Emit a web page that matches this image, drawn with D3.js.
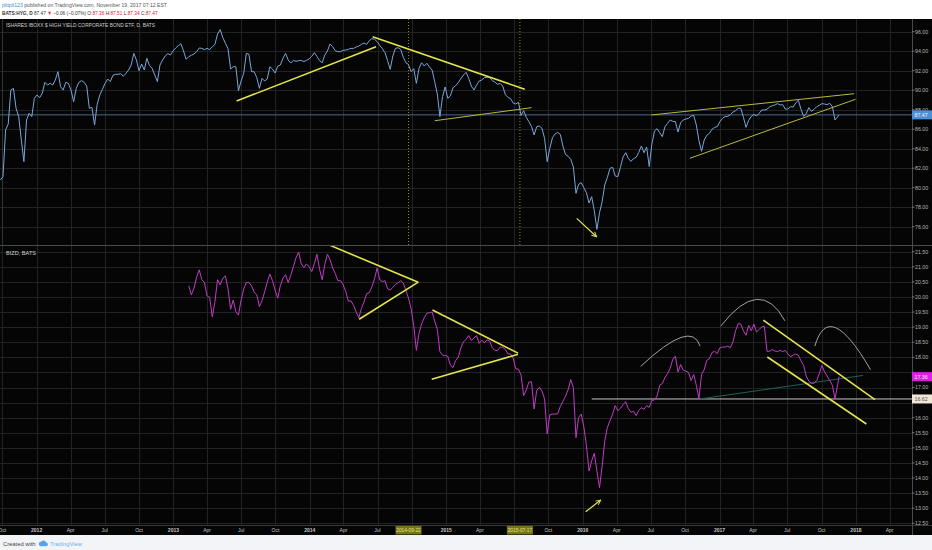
<!DOCTYPE html>
<html><head><meta charset="utf-8">
<script src="https://cdn.jsdelivr.net/npm/d3@7"></script>
<style>
body{margin:0;background:#fff}
svg{display:block}
text{font-family:"Liberation Sans",Arial,sans-serif}
</style>
</head><body>
<svg id="c" width="932" height="550"></svg>
<script>
// ---------------- DATA ----------------
const hygStart = "2011-09-26";   // weekly closes (Mondays)
const bizdStart = "2013-02-11";
const lastDate = "2017-11-17";
const hygValues = [
80.79,81.13,85.92,86.53,90.02,90.19,88.14,87.29,84.89,82.67,
86.94,87.63,87.29,89.17,89.51,89.23,89.68,90.81,90.53,90.70,
90.53,91.05,91.90,90.36,90.02,90.81,90.70,90.02,88.82,90.19,
90.81,90.98,90.81,90.43,88.14,88.24,86.43,88.55,89.51,90.09,
90.70,91.15,90.88,91.52,91.63,91.63,91.70,91.42,91.73,92.07,
92.58,93.78,93.10,92.00,92.69,92.07,93.27,92.52,92.24,91.56,
90.88,92.58,93.10,93.51,93.75,93.61,94.02,94.33,94.57,94.77,
94.02,93.17,93.44,93.58,93.71,93.95,94.33,94.29,94.16,94.29,
94.16,94.46,94.70,95.76,96.21,95.42,94.81,94.26,92.17,92.41,
92.41,89.95,90.94,91.73,93.78,93.68,91.90,91.90,91.29,90.19,
91.22,90.94,91.15,92.41,92.17,91.76,92.45,92.58,93.27,93.78,
93.10,92.79,93.06,92.96,93.03,93.06,92.93,93.06,93.20,93.47,
93.85,93.47,93.03,92.82,93.61,94.02,94.74,94.46,94.05,93.95,
93.95,94.09,94.12,94.19,94.29,94.29,94.43,94.53,94.70,94.84,
94.70,95.08,95.29,95.22,94.98,94.57,94.26,93.85,93.03,92.14,
93.51,94.29,94.36,94.19,93.37,92.82,92.62,91.90,92.21,90.70,
92.24,92.82,92.48,92.76,92.38,92.07,90.88,89.61,87.29,89.34,
90.33,89.17,89.41,90.26,90.46,90.77,91.18,91.56,91.83,91.22,
90.43,90.02,90.53,90.94,91.05,91.29,91.32,91.32,90.98,90.84,
90.60,90.70,90.43,89.54,89.27,89.13,88.69,88.58,88.76,87.42,
87.90,87.22,86.77,86.29,85.41,86.26,86.33,86.09,85.06,82.67,
84.04,85.13,85.51,85.68,85.47,84.28,83.39,83.22,82.91,82.12,
79.42,80.35,80.52,80.00,79.49,78.43,79.08,77.64,75.73,77.44,
78.57,80.28,81.06,81.99,82.09,81.20,81.13,82.09,83.15,83.59,
83.01,82.70,82.98,83.11,83.63,84.28,83.59,84.17,82.16,84.45,
85.82,86.05,85.64,85.23,86.26,86.60,86.94,86.81,86.77,85.71,
86.67,86.94,87.05,87.11,87.35,87.42,86.43,84.82,83.73,84.89,
85.37,85.58,85.99,86.19,86.26,86.77,87.11,87.29,87.32,87.49,
87.76,87.90,88.14,88.14,87.22,86.19,86.91,87.32,87.52,87.35,
87.63,87.97,87.97,88.04,88.28,88.41,88.48,88.62,88.48,88.52,
88.07,88.07,88.31,88.28,88.69,88.96,88.04,87.32,87.59,88.21,
87.83,88.04,88.31,88.45,88.62,88.58,88.52,88.65,88.31,86.94,
87.47];
const bizdValues = [
20.37,20.07,20.29,20.66,20.90,20.57,20.48,20.03,
19.99,19.34,19.84,20.57,20.40,20.62,20.70,20.27,19.59,19.90,
19.51,19.40,19.90,20.26,20.48,20.48,20.37,20.16,20.07,19.68,
19.87,20.17,20.49,20.76,20.54,20.23,19.96,20.37,20.62,20.74,
20.48,20.72,21.01,21.30,21.49,21.10,20.97,21.09,21.01,20.84,
21.10,21.42,20.92,20.57,21.08,21.42,21.24,20.96,20.78,20.54,
20.54,20.41,20.18,19.86,19.87,19.72,19.50,19.31,19.62,19.84,
20.11,20.14,20.34,20.60,20.96,20.57,20.51,20.54,20.27,20.23,
20.32,20.42,20.47,20.54,20.46,20.21,19.96,19.61,19.04,18.23,
18.79,19.11,19.31,19.46,19.48,19.50,19.20,18.93,18.19,18.07,
18.06,18.03,17.74,17.66,17.89,18.00,18.31,18.51,18.60,18.72,
18.56,18.64,18.72,18.46,18.57,18.48,18.58,18.54,18.32,18.23,
18.22,18.34,18.33,18.26,18.11,18.11,17.97,17.62,17.61,17.41,
16.73,16.92,17.18,17.19,16.29,16.90,17.01,16.88,16.62,15.46,
16.10,16.12,16.12,16.13,16.37,16.54,16.71,16.93,17.26,17.00,
15.34,16.01,16.12,15.70,15.07,14.23,14.57,14.82,14.23,13.68,
14.40,15.23,15.68,15.90,16.12,16.40,16.23,16.31,16.43,16.53,
16.30,16.18,16.21,16.07,16.24,16.33,16.28,16.40,16.34,16.57,
16.59,16.72,17.08,17.13,17.33,17.46,17.63,17.94,18.04,17.51,
17.76,17.58,17.54,17.50,17.23,17.43,17.07,16.64,17.44,17.59,
17.90,17.96,18.16,18.20,18.12,18.32,18.34,18.34,18.37,18.32,
18.51,18.88,19.12,19.10,18.88,18.73,19.06,18.88,19.10,18.84,
18.92,19.01,19.03,18.20,18.20,18.26,18.21,18.19,18.23,18.19,
18.23,18.11,18.02,18.07,18.11,18.07,17.88,17.73,17.38,17.21,
17.14,17.14,17.23,17.46,17.73,17.52,17.38,17.23,17.07,16.62,
17.36];
const hygTicks = [76,78,80,82,84,86,88,90,92,94,96];
const bizdTicks = [12.5,13,13.5,14,14.5,15,15.5,16,16.5,17,17.5,18,18.5,19,19.5,20,20.5,21,21.5];
const monthNames = ["Jan","Feb","Mar","Apr","May","Jun","Jul","Aug","Sep","Oct","Nov","Dec"];
const markedDates = ["2014-09-22","2015-07-17"];
const supportLevel = 16.62;
const supportFrom = "2016-01-25";
// drawings in (date, price)
const topTrendBold = [
  [["2013-06-19",88.89],["2014-06-27",94.46]],
  [["2014-06-18",95.49],["2015-07-30",90.09]]];
const topTrendThin = [
  [["2014-12-01",86.87],["2015-08-17",88.21]],
  [["2016-07-03",87.46],["2017-12-27",89.64]],
  [["2016-10-14",83.02],["2017-12-31",89.07]]];
const topArrow = [["2015-12-16",76.86],["2016-02-07",74.97]];
const botTrend = [
  [["2014-02-24",21.71],["2014-10-18",20.49]],
  [["2014-05-13",19.26],["2014-10-18",20.49]],
  [["2014-11-25",19.57],["2015-07-12",18.14]],
  [["2014-11-23",17.27],["2015-07-12",18.10]],
  [["2017-04-28",19.23],["2018-02-21",16.60]],
  [["2017-05-09",18.01],["2018-01-29",15.79]]];
const botArrow = [["2016-01-09",12.88],["2016-02-18",13.27]];
const botArcs = [
  [["2016-06-04",17.70],["2016-09-20",18.66],["2016-11-10",18.37]],
  [["2017-01-04",19.03],["2017-04-10",19.92],["2017-06-25",19.21]],
  [["2017-09-13",18.37],["2017-11-08",18.98],["2018-02-09",17.59]]];
const tealLine = [["2016-11-10",16.62],["2018-01-20",17.40]];

// ---------------- SETUP ----------------
const parse = d3.utcParse("%Y-%m-%d");
const svg = d3.select("#c");
const W = 932, H = 550, plotR = 912, chartTop = 19, sepY = 245, botB = 525, axisB = 535;
const yellow = "#e4e44c", olive = "#b9b93e";

const x = d3.scaleUtc().domain([parse("2011-09-25"), parse("2018-05-31")]).range([0, plotR]);
const yT = d3.scaleLinear().domain([76, 96]).range([226.7, 31.7]);
const yB = d3.scaleLinear().domain([12.5, 21.5]).range([523.3, 251.7]);

function series(start, values) {
  const ds = d3.utcMonday.range(parse(start), d3.utcDay.offset(parse(lastDate), 1));
  ds[ds.length - 1] = parse(lastDate);
  return values.map((v, i) => ({date: ds[i], value: v})).filter(d => d.date);
}
const hyg = series(hygStart, hygValues);
const bizd = series(bizdStart, bizdValues);
const lastH = hyg[hyg.length - 1].value;
const lastB = bizd[bizd.length - 1].value;

// backgrounds
svg.append("rect").attr("width", W).attr("height", H).attr("fill", "#ffffff");
svg.append("rect").attr("y", chartTop).attr("width", W).attr("height", axisB - chartTop).attr("fill", "#050505");
svg.append("rect").attr("y", axisB).attr("width", W).attr("height", H - axisB).attr("fill", "#f2f4f7");

const defs = svg.append("defs");
defs.append("clipPath").attr("id", "clipT").append("rect").attr("x", 0).attr("y", chartTop).attr("width", plotR).attr("height", sepY - chartTop);
defs.append("clipPath").attr("id", "clipB").append("rect").attr("x", 0).attr("y", sepY + 1).attr("width", plotR).attr("height", botB - sepY - 1);
defs.append("marker").attr("id", "arr").attr("viewBox", "0 0 10 10").attr("refX", 9).attr("refY", 5)
  .attr("markerWidth", 5).attr("markerHeight", 5).attr("orient", "auto")
  .append("path").attr("d", "M1,1 L9,5 L1,9").attr("fill", "none").attr("stroke", yellow).attr("stroke-width", 1.6);

// grid
const ticksX = d3.utcMonth.every(3).range(x.domain()[0], x.domain()[1]);
const grid = svg.append("g").attr("stroke", "#222222").attr("stroke-width", 1);
grid.selectAll("line.v").data(ticksX).join("line")
  .attr("x1", d => Math.round(x(d)) + 0.5).attr("x2", d => Math.round(x(d)) + 0.5)
  .attr("y1", chartTop).attr("y2", botB);
grid.selectAll("line.ht").data(hygTicks).join("line").attr("class", "ht")
  .attr("x1", 0).attr("x2", plotR).attr("y1", d => Math.round(yT(d)) + 0.5).attr("y2", d => Math.round(yT(d)) + 0.5);
grid.selectAll("line.hb").data(bizdTicks).join("line").attr("class", "hb")
  .attr("x1", 0).attr("x2", plotR).attr("y1", d => Math.round(yB(d)) + 0.5).attr("y2", d => Math.round(yB(d)) + 0.5);

// separators
svg.append("line").attr("x1", 0).attr("x2", W).attr("y1", sepY + 0.5).attr("y2", sepY + 0.5).attr("stroke", "#4a4a4a");
svg.append("line").attr("x1", 0).attr("x2", W).attr("y1", botB + 0.5).attr("y2", botB + 0.5).attr("stroke", "#3a3a3a");
svg.append("line").attr("x1", plotR + 0.5).attr("x2", plotR + 0.5).attr("y1", chartTop).attr("y2", axisB).attr("stroke", "#4a4a4a");
svg.append("line").attr("x1", 2.5).attr("x2", 2.5).attr("y1", chartTop).attr("y2", sepY).attr("stroke", "#333");

// top pane
const gT = svg.append("g").attr("clip-path", "url(#clipT)");
gT.append("line").attr("x1", 0).attr("x2", plotR).attr("y1", yT(lastH)).attr("y2", yT(lastH)).attr("stroke", "#46698f").attr("stroke-width", 1);
markedDates.forEach(d => {
  gT.append("line").attr("x1", x(parse(d))).attr("x2", x(parse(d))).attr("y1", chartTop).attr("y2", sepY)
    .attr("stroke", "#8f8f26").attr("stroke-dasharray", "1,2").attr("stroke-width", 1);
});
gT.append("path").datum(hyg).attr("fill", "none").attr("stroke", "#79a6d8").attr("stroke-width", 1).attr("stroke-linejoin", "round")
  .attr("d", d3.line().x(d => x(d.date)).y(d => yT(d.value)));
const segT = p => d3.line().x(d => x(parse(d[0]))).y(d => yT(d[1]))(p);
const segB = p => d3.line().x(d => x(parse(d[0]))).y(d => yB(d[1]))(p);
topTrendBold.forEach(p => gT.append("path").attr("d", segT(p)).attr("stroke", yellow).attr("stroke-width", 1.6).attr("fill", "none"));
topTrendThin.forEach(p => gT.append("path").attr("d", segT(p)).attr("stroke", olive).attr("stroke-width", 1).attr("fill", "none"));
gT.append("path").attr("d", segT(topArrow)).attr("stroke", yellow).attr("stroke-width", 1.2).attr("fill", "none").attr("marker-end", "url(#arr)");
gT.append("text").attr("x", 6).attr("y", 27).attr("font-size", 5.6).attr("fill", "#cfcfcf")
  .attr("textLength", 149).attr("lengthAdjust", "spacingAndGlyphs")
  .text("ISHARES IBOXX $ HIGH YIELD CORPORATE BOND ETF, D, BATS");

// bottom pane
const gB = svg.append("g").attr("clip-path", "url(#clipB)");
gB.append("line").attr("x1", x(parse(supportFrom))).attr("x2", plotR).attr("y1", yB(supportLevel)).attr("y2", yB(supportLevel))
  .attr("stroke", "#c9c9c9").attr("stroke-width", 1);
gB.append("path").attr("d", segB(tealLine)).attr("stroke", "#1f6159").attr("stroke-width", 1).attr("fill", "none");
gB.append("path").datum(bizd).attr("fill", "none").attr("stroke", "#c13bc6").attr("stroke-width", 1).attr("stroke-linejoin", "round")
  .attr("d", d3.line().x(d => x(d.date)).y(d => yB(d.value)));
botTrend.forEach(p => gB.append("path").attr("d", segB(p)).attr("stroke", yellow).attr("stroke-width", 1.6).attr("fill", "none"));
gB.append("path").attr("d", segB(botArrow)).attr("stroke", yellow).attr("stroke-width", 1.2).attr("fill", "none").attr("marker-end", "url(#arr)");
// arcs: quadratic curve through start, apex (at t=0.5) and end
botArcs.forEach(a => {
  const [p1, p2, p3] = a.map(d => [x(parse(d[0])), yB(d[1])]);
  const c = [2 * p2[0] - (p1[0] + p3[0]) / 2, 2 * p2[1] - (p1[1] + p3[1]) / 2];
  gB.append("path").attr("d", `M${p1[0]},${p1[1]} Q${c[0]},${c[1]} ${p3[0]},${p3[1]}`)
    .attr("fill", "none").attr("stroke", "#a3a3a3").attr("stroke-width", 1);
});
gB.append("text").attr("x", 6).attr("y", 255).attr("font-size", 5.6).attr("fill", "#cfcfcf").text("BIZD, BATS");

// price axes (labels hidden where a price tag sits on top of them)
const tagYs = [yT(lastH), yB(lastB), yB(supportLevel)];
const covered = py => tagYs.some(t => Math.abs(t - py) < 4.5);
const axT = svg.append("g").attr("font-size", 5.3).attr("fill", "#b4b4b4");
function priceTick(py, v) {
  axT.append("line").attr("x1", plotR).attr("x2", plotR + 2.5).attr("y1", py).attr("y2", py).attr("stroke", "#777");
  if (!covered(py)) axT.append("text").attr("x", 915).attr("y", py + 1.9).text(v.toFixed(2));
}
hygTicks.forEach(v => priceTick(yT(v), v));
bizdTicks.forEach(v => priceTick(yB(v), v));
function tag(y, label, fill, color) {
  svg.append("rect").attr("x", plotR).attr("y", y - 4.5).attr("width", W - plotR).attr("height", 9).attr("fill", fill);
  svg.append("text").attr("x", 914.5).attr("y", y + 1.9).attr("font-size", 5.3).attr("fill", color).text(label);
}
tag(yT(lastH), lastH.toFixed(2), "#4d8fd6", "#e8f2ff");
tag(yB(lastB), lastB.toFixed(2), "#e01fe0", "#ffe6ff");
tag(yB(supportLevel), supportLevel.toFixed(2), "#efe7d6", "#555");

// time axis
const markedX = markedDates.map(d => x(parse(d)));
const axX = svg.append("g").attr("font-size", 5).attr("fill", "#c4c4c4").attr("text-anchor", "middle");
ticksX.forEach(t => {
  const px = x(t);
  if (markedX.some(m => Math.abs(m - px) < 16)) return;
  const m = t.getUTCMonth();
  axX.append("text").attr("x", px).attr("y", 532).attr("font-weight", m === 0 ? "bold" : "normal")
    .text(m === 0 ? String(t.getUTCFullYear()) : monthNames[m]);
});
const fmtMark = d3.utcFormat("%Y-%m-%d");
markedDates.forEach(d => {
  const px = x(parse(d));
  svg.append("rect").attr("x", px - 13).attr("y", 526).attr("width", 26).attr("height", 8.5).attr("fill", "#74741a");
  svg.append("text").attr("x", px).attr("y", 532).attr("font-size", 4.8).attr("text-anchor", "middle").attr("fill", "#e6e67a").text(fmtMark(parse(d)));
});

// header: build at natural size, then squeeze horizontally to the reference width
function headerLine(y, parts, targetW) {
  const g = svg.append("g");
  const t = g.append("text").attr("x", 0).attr("y", y).attr("font-size", 5.8);
  parts.forEach(([txt, col, bold]) => t.append("tspan").attr("fill", col).attr("font-weight", bold ? "bold" : "normal").text(txt));
  const w = t.node().getComputedTextLength();
  g.attr("transform", `translate(2,0) scale(${targetW / w},1)`);
}
headerLine(7.5, [["plttplt123", "#3d8bd8"], [" published on TradingView.com, November 19, 2017 07:12 EST", "#555"]], 165);
headerLine(15.5, [["BATS:HYG, D ", "#333", true], ["87.47 ", "#333"], ["▼", "#e0262b"], [" −0.06 (−0.07%) O:", "#333"],
  ["87.36", "#e0262b"], [" H:", "#333"], ["87.51", "#e0262b"], [" L:", "#333"], ["87.34", "#e0262b"], [" C:", "#333"], ["87.47", "#e0262b"]], 156);

// footer
svg.append("text").attr("x", 3).attr("y", 545.5).attr("font-size", 5.8).attr("fill", "#444").text("Created with");
const cloud = svg.append("g").attr("transform", "translate(38,540.5)").attr("fill", "#5aa3e6");
cloud.append("circle").attr("cx", 3).attr("cy", 3.5).attr("r", 2.2);
cloud.append("circle").attr("cx", 5.5).attr("cy", 2.5).attr("r", 2.6);
cloud.append("circle").attr("cx", 8).attr("cy", 3.8).attr("r", 1.9);
cloud.append("rect").attr("x", 2.5).attr("y", 3.5).attr("width", 6).attr("height", 2.2);
svg.append("text").attr("x", 50).attr("y", 545.5).attr("font-size", 5.8).attr("fill", "#6fb0ea").text("TradingView");
</script>
</body></html>
